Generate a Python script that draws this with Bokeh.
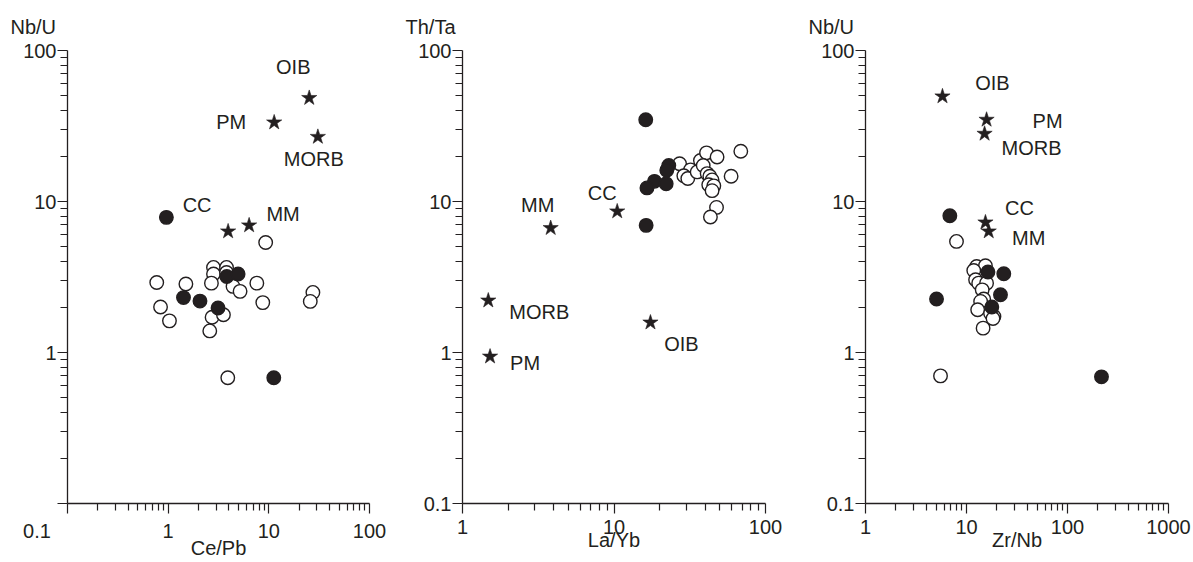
from bokeh.plotting import figure
from bokeh.layouts import row
from bokeh.models import FixedTicker, ColumnDataSource, Range1d, Title
from bokeh.embed import file_html
from bokeh.resources import INLINE
from bokeh.core.properties import value

# ---------------- data ----------------
# Panel 1: Ce/Pb vs Nb/U
p1_open_x = [9.3, 2.82, 3.80, 2.82, 3.80, 0.77, 1.50, 2.69, 4.41, 5.18, 7.60, 8.71, 27.4, 25.8, 0.84, 1.03, 2.73, 3.54, 2.59, 3.91]
p1_open_y = [5.35, 3.66, 3.66, 3.31, 3.39, 2.91, 2.84, 2.88, 2.74, 2.54, 2.88, 2.14, 2.50, 2.18, 2.00, 1.62, 1.71, 1.78, 1.39, 0.68]
p1_fill_x = [0.96, 1.42, 2.07, 3.13, 3.82, 4.95, 11.2]
p1_fill_y = [7.85, 2.31, 2.19, 1.97, 3.19, 3.31, 0.68]
p1_star_names = ["OIB", "PM", "MORB", "CC", "MM"]
p1_star_x = [25.2, 11.3, 30.7, 3.94, 6.37]
p1_star_y = [48.5, 33.4, 26.8, 6.34, 6.95]

# Panel 2: La/Yb vs Th/Ta
p2_open_x = [27.1, 32.0, 28.9, 30.7, 35.4, 37.2, 40.8, 47.9, 38.8, 41.2, 42.9, 44.4, 42.2, 45.6, 44.4, 59.3, 68.7, 47.5, 43.3]
p2_open_y = [17.8, 16.2, 14.8, 14.2, 15.7, 18.7, 21.0, 19.7, 17.3, 15.3, 14.7, 13.9, 12.9, 12.7, 11.8, 14.7, 21.5, 9.14, 7.89]
p2_fill_x = [16.2, 23.0, 22.3, 18.5, 22.1, 16.5, 16.3]
p2_fill_y = [34.8, 17.3, 16.1, 13.6, 13.1, 12.3, 6.95]
p2_star_names = ["MM", "CC", "MORB", "PM", "OIB"]
p2_star_x = [3.82, 10.5, 1.48, 1.52, 17.4]
p2_star_y = [6.67, 8.60, 2.21, 0.94, 1.58]

# Panel 3: Zr/Nb vs Nb/U
p3_open_x = [7.96, 12.6, 15.4, 11.8, 12.3, 13.2, 15.8, 14.3, 14.8, 13.8, 12.9, 18.7, 17.3, 14.6, 18.3, 5.53]
p3_open_y = [5.44, 3.71, 3.75, 3.49, 3.03, 2.88, 2.88, 2.60, 2.26, 2.18, 1.92, 1.73, 1.82, 1.45, 1.68, 0.70]
p3_fill_x = [6.84, 5.05, 16.3, 23.4, 21.7, 17.8, 217]
p3_fill_y = [8.05, 2.26, 3.41, 3.32, 2.41, 2.00, 0.69]
p3_star_names = ["OIB", "PM", "MORB", "CC", "MM"]
p3_star_x = [5.78, 15.8, 15.1, 15.4, 16.6]
p3_star_y = [49.7, 34.8, 28.1, 7.27, 6.34]

y_ticks = [0.1, 1, 10, 100]
y_tick_labels = ["0.1", "1", "10", "100"]
x1_ticks = [0.1, 1, 10, 100]
x1_tick_labels = ["0.1", "1", "10", "100"]
x2_ticks = [1, 10, 100]
x2_tick_labels = ["1", "10", "100"]
x3_ticks = [1, 10, 100, 1000]
x3_tick_labels = ["1", "10", "100", "1000"]

# ---------------- style ----------------
INK = "#231f20"
FONT = "Liberation Sans"
FS = "20px"
H = 562
TOP = 50
FRAME_H = 453

# label offsets in pixels (dx, dy screen-down)
p1_offsets = {"OIB": (-16, -31), "PM": (-43, 0), "MORB": (-4, 22), "CC": (-31, -26), "MM": (34, -11)}
p2_offsets = {"MM": (-13, -23), "CC": (-15, -18), "MORB": (51, 12), "PM": (35, 6), "OIB": (31, 21)}
p3_offsets = {"OIB": (50, -13), "PM": (61, 1), "MORB": (47, 14), "CC": (34, -14), "MM": (40, 7)}


def minors(lo_exp, hi_exp):
    return [m * 10.0 ** k for k in range(lo_exp, hi_exp) for m in range(2, 10)]


def panel(width, left, right, xr, xt, xtl, xminor, ylabel, xlabel, ox, oy, fx, fy, sx, sy, names, offs,
          x_overrides=None, hide_y=None):
    p = figure(width=width, height=H, x_axis_type="log", y_axis_type="log",
               x_range=Range1d(*xr), y_range=Range1d(0.1, 100),
               output_backend="svg", toolbar_location=None,
               min_border_left=left, min_border_right=right,
               min_border_top=TOP, min_border_bottom=H - TOP - FRAME_H)
    p.outline_line_color = None
    p.grid.visible = False
    p.background_fill_color = "white"
    p.border_fill_color = "white"

    p.xaxis.ticker = FixedTicker(ticks=xt, minor_ticks=xminor)
    p.yaxis.ticker = FixedTicker(ticks=y_ticks, minor_ticks=minors(-1, 2))
    xo = {t: l for t, l in zip(xt, xtl)}
    yo = {t: l for t, l in zip(y_ticks, y_tick_labels)}
    if x_overrides:
        xo.update(x_overrides)
    if hide_y is not None:
        yo[hide_y] = ""
    p.xaxis.major_label_overrides = xo
    p.yaxis.major_label_overrides = yo
    for ax in (p.xaxis, p.yaxis):
        ax.axis_line_color = INK
        ax.axis_line_width = 1.3
        ax.major_tick_line_color = INK
        ax.minor_tick_line_color = INK
        ax.major_tick_line_width = 1.2
        ax.minor_tick_line_width = 1.2
        ax.major_tick_in = 0
        ax.minor_tick_in = 0
        ax.major_tick_out = 10
        ax.minor_tick_out = 7
        ax.major_label_text_font = FONT
        ax.major_label_text_font_size = FS
        ax.major_label_text_color = INK
    p.xaxis.major_label_standoff = 6
    p.yaxis.major_label_standoff = 1
    p.xaxis.axis_label = xlabel
    p.xaxis.axis_label_standoff = -8
    p.xaxis.axis_label_text_font = FONT
    p.xaxis.axis_label_text_font_size = FS
    p.xaxis.axis_label_text_font_style = "normal"
    p.xaxis.axis_label_text_color = INK

    p.add_layout(Title(text=ylabel, align="left", offset=-57, standoff=25,
                       text_font=FONT, text_font_size=FS, text_font_style="normal",
                       text_color=INK), "above")

    p.scatter(ox, oy, marker="circle", size=13.5, fill_color="white", line_color=INK, line_width=1.4)
    p.scatter(fx, fy, marker="circle", size=13.5, fill_color=INK, line_color=INK, line_width=1.4)
    p.scatter(sx, sy, marker="star", size=16, fill_color=INK, line_color=INK, line_width=0.6)

    src = ColumnDataSource(dict(x=sx, y=sy, t=names,
                                dx=[offs[n][0] for n in names], dy=[offs[n][1] for n in names]))
    p.text(x="x", y="y", text="t", x_offset="dx", y_offset="dy", source=src,
           text_align="center", text_baseline="middle", text_font=value(FONT),
           text_font_size=FS, text_color=INK)
    return p


NB = "\u00a0"
p1 = panel(395, 67, 26, (0.1, 100), x1_ticks, x1_tick_labels, minors(-1, 2), "Nb/U", "Ce/Pb",
           p1_open_x, p1_open_y, p1_fill_x, p1_fill_y, p1_star_x, p1_star_y, p1_star_names, p1_offsets,
           x_overrides={0.1: "0.1" + NB * 11}, hide_y=0.1)

p2 = panel(405, 67, 35, (1, 100), x2_ticks, x2_tick_labels, minors(0, 2), "Th/Ta", "La/Yb",
           p2_open_x, p2_open_y, p2_fill_x, p2_fill_y, p2_star_x, p2_star_y, p2_star_names, p2_offsets)

p3 = panel(393, 65, 25, (1, 1000), x3_ticks, x3_tick_labels, minors(0, 3), "Nb/U", "Zr/Nb",
           p3_open_x, p3_open_y, p3_fill_x, p3_fill_y, p3_star_x, p3_star_y, p3_star_names, p3_offsets)

layout = row(p1, p2, p3)
open("out.html", "w").write(file_html(layout, INLINE))
